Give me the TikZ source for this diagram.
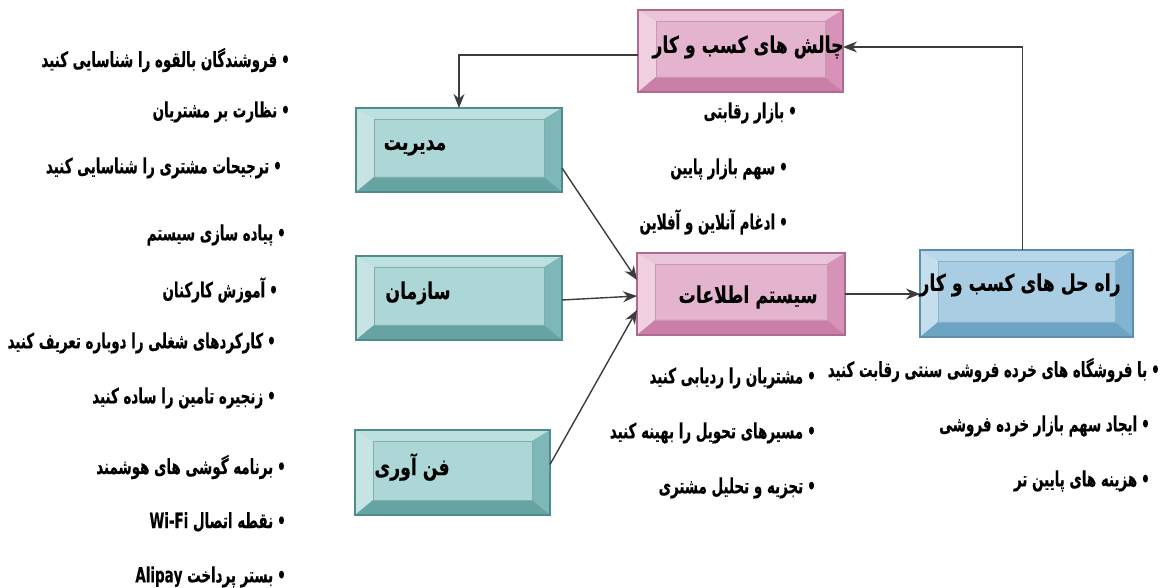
\documentclass[tikz,border=0pt]{standalone}
\usepackage{fontspec}
\usetikzlibrary{arrows.meta,calc}
\TeXXeTstate=1
\newfontfamily\fa[Script=Arabic,BoldFont={DejaVu Sans Bold},FakeStretch=0.64,FakeBold=0.3]{DejaVu Sans}
\newfontfamily\falabel[Script=Arabic,BoldFont={DejaVu Sans Bold},FakeStretch=0.75,FakeBold=0.3]{DejaVu Sans}
% bullet followed by a narrow gap
\newcommand\bul{•\kern4pt}

% bevel colours: border, face, top, left, right, bottom
\definecolor{tBorder}{HTML}{4F8C8C}
\definecolor{tFace}{HTML}{ADD6D6}
\definecolor{tTop}{HTML}{BCDFDF}
\definecolor{tLeft}{HTML}{C6E4E4}
\definecolor{tRight}{HTML}{7DB7B7}
\definecolor{tBottom}{HTML}{66A3A3}

\definecolor{pBorder}{HTML}{B06A90}
\definecolor{pFace}{HTML}{E4B3CD}
\definecolor{pTop}{HTML}{EAC4D8}
\definecolor{pLeft}{HTML}{F0D0E1}
\definecolor{pRight}{HTML}{D693B7}
\definecolor{pBottom}{HTML}{C97FA8}

\definecolor{bBorder}{HTML}{5A8FB0}
\definecolor{bFace}{HTML}{A9CDE2}
\definecolor{bTop}{HTML}{B8D7E9}
\definecolor{bLeft}{HTML}{C5DEED}
\definecolor{bRight}{HTML}{80B4D1}
\definecolor{bBottom}{HTML}{6EA4C3}

\definecolor{lineGray}{HTML}{3C3C3C}

% four bevel faces around a box node: #1 name, #2 prefix of colour set
\newcommand\bevelfaces[2]{%
  \fill[#2Top] (#1.north west) -- (#1.north east) -- ($(#1.north east)+(-18,11)$) -- ($(#1.north west)+(18,11)$) -- cycle;
  \fill[#2Left] (#1.north west) -- ($(#1.north west)+(18,11)$) -- ($(#1.south west)+(18,-15)$) -- (#1.south west) -- cycle;
  \fill[#2Right] (#1.north east) -- ($(#1.north east)+(-18,11)$) -- ($(#1.south east)+(-18,-15)$) -- (#1.south east) -- cycle;
  \fill[#2Bottom] (#1.south west) -- ($(#1.south west)+(18,-15)$) -- ($(#1.south east)+(-18,-15)$) -- (#1.south east) -- cycle;
  \draw[#2Border!70, line width=0.5pt] ($(#1.north west)+(18,11)$) rectangle ($(#1.south east)+(-18,-15)$);
  \draw[#2Border, line width=1.2pt] (#1.north west) rectangle (#1.south east);
}

\tikzset{
  box/.style={rectangle, inner sep=0pt, outer sep=0pt},
  tealbox/.style={box, fill=tFace},
  pinkbox/.style={box, fill=pFace},
  bluebox/.style={box, fill=bFace},
  boxlabel/.style={font=\falabel\bfseries\fontsize{23}{27}\selectfont, inner sep=0pt},
  item/.style={font=\fa\bfseries\fontsize{21}{25}\selectfont, inner sep=0pt, anchor=east},
  arr/.style={draw=lineGray, line width=1.4pt, -{Stealth[length=14pt,width=11pt]}},
}

\begin{document}
\begin{tikzpicture}[x=1pt, y=-1pt]
\useasboundingbox (0,0) rectangle (1163,588);

% boxes
\node[pinkbox, minimum width=205pt, minimum height=82pt] (ch) at (740.5,51) {};
\node[tealbox, minimum width=206pt, minimum height=84pt] (mgmt) at (459,150) {};
\node[tealbox, minimum width=206pt, minimum height=84pt] (org) at (459,298) {};
\node[tealbox, minimum width=195pt, minimum height=85pt] (tech) at (452.5,472.5) {};
\node[pinkbox, minimum width=208pt, minimum height=82pt] (is) at (741,294) {};
\node[bluebox, minimum width=213pt, minimum height=87pt] (sol) at (1026.5,293.5) {};

\bevelfaces{ch}{p}
\bevelfaces{mgmt}{t}
\bevelfaces{org}{t}
\bevelfaces{tech}{t}
\bevelfaces{is}{p}
\bevelfaces{sol}{b}

% box labels
\node[boxlabel] (chL) at (748,47) {\beginR چالش های کسب و کار\endR};
\node[boxlabel] (mgmtL) at (415,148) {\beginR مدیریت\endR};
\node[boxlabel] (orgL) at (418,293) {\beginR سازمان\endR};
\node[boxlabel] (techL) at (412,467) {\beginR فن آوری\endR};
\node[boxlabel] (isL) at (748,297) {\beginR سیستم اطلاعات\endR};
\node[boxlabel] (solL) at (1020,285) {\beginR راه حل های کسب و کار\endR};

% connectors
\draw[arr] ([yshift=-4pt]ch.west) -| (mgmt.north);
\draw[arr] ([xshift=-4pt]sol.north) |- ([yshift=4pt]ch.east);
\draw[arr] ([yshift=-18pt]mgmt.east) -- ([yshift=14pt]is.west);
\draw[arr] ([yshift=-2pt]org.east) -- ([yshift=-2pt]is.west);
\draw[arr] ([yshift=8pt]tech.east) -- ([yshift=-16pt]is.west);
\draw[arr] (is.east) -- (is.east -| sol.west);

% left lists
\node[item] (m1) at (290,60) {\beginR \bul فروشندگان بالقوه را شناسایی کنید\endR};
\node[item] (m2) at (290,112) {\beginR \bul نظارت بر مشتریان\endR};
\node[item] (m3) at (282,168) {\beginR \bul ترجیحات مشتری را شناسایی کنید\endR};
\node[item] (o1) at (286,235) {\beginR \bul پیاده سازی سیستم\endR};
\node[item] (o2) at (278,290) {\beginR \bul آموزش کارکنان\endR};
\node[item] (o3) at (276,343) {\beginR \bul کارکردهای شغلی را دوباره تعریف کنید\endR};
\node[item] (o4) at (276,398) {\beginR \bul زنجیره تامین را ساده کنید\endR};
\node[item] (t1) at (286,467) {\beginR \bul برنامه گوشی های هوشمند\endR};
\node[item] (t2) at (286,522) {\beginR \bul نقطه اتصال \beginL Wi-Fi\endL\endR};
\node[item] (t3) at (286,577) {\beginR \bul بستر پرداخت \beginL Alipay\endL\endR};

% challenge list
\node[item] (c1) at (797,113) {\beginR \bul بازار رقابتی\endR};
\node[item] (c2) at (788,169) {\beginR \bul سهم بازار پایین\endR};
\node[item] (c3) at (788,222) {\beginR \bul ادغام آنلاین و آفلاین\endR};

% information system list
\node[item] (i1) at (816,378) {\beginR \bul مشتریان را ردیابی کنید\endR};
\node[item] (i2) at (816,433) {\beginR \bul مسیرهای تحویل را بهینه کنید\endR};
\node[item] (i3) at (816,488) {\beginR \bul تجزیه و تحلیل مشتری\endR};

% solution list
\node[item] (s1) at (1160,370) {\beginR \bul با فروشگاه های خرده فروشی سنتی رقابت کنید\endR};
\node[item] (s2) at (1150,426) {\beginR \bul ایجاد سهم بازار خرده فروشی\endR};
\node[item] (s3) at (1150,481) {\beginR \bul هزینه های پایین تر\endR};
\end{tikzpicture}
\end{document}
